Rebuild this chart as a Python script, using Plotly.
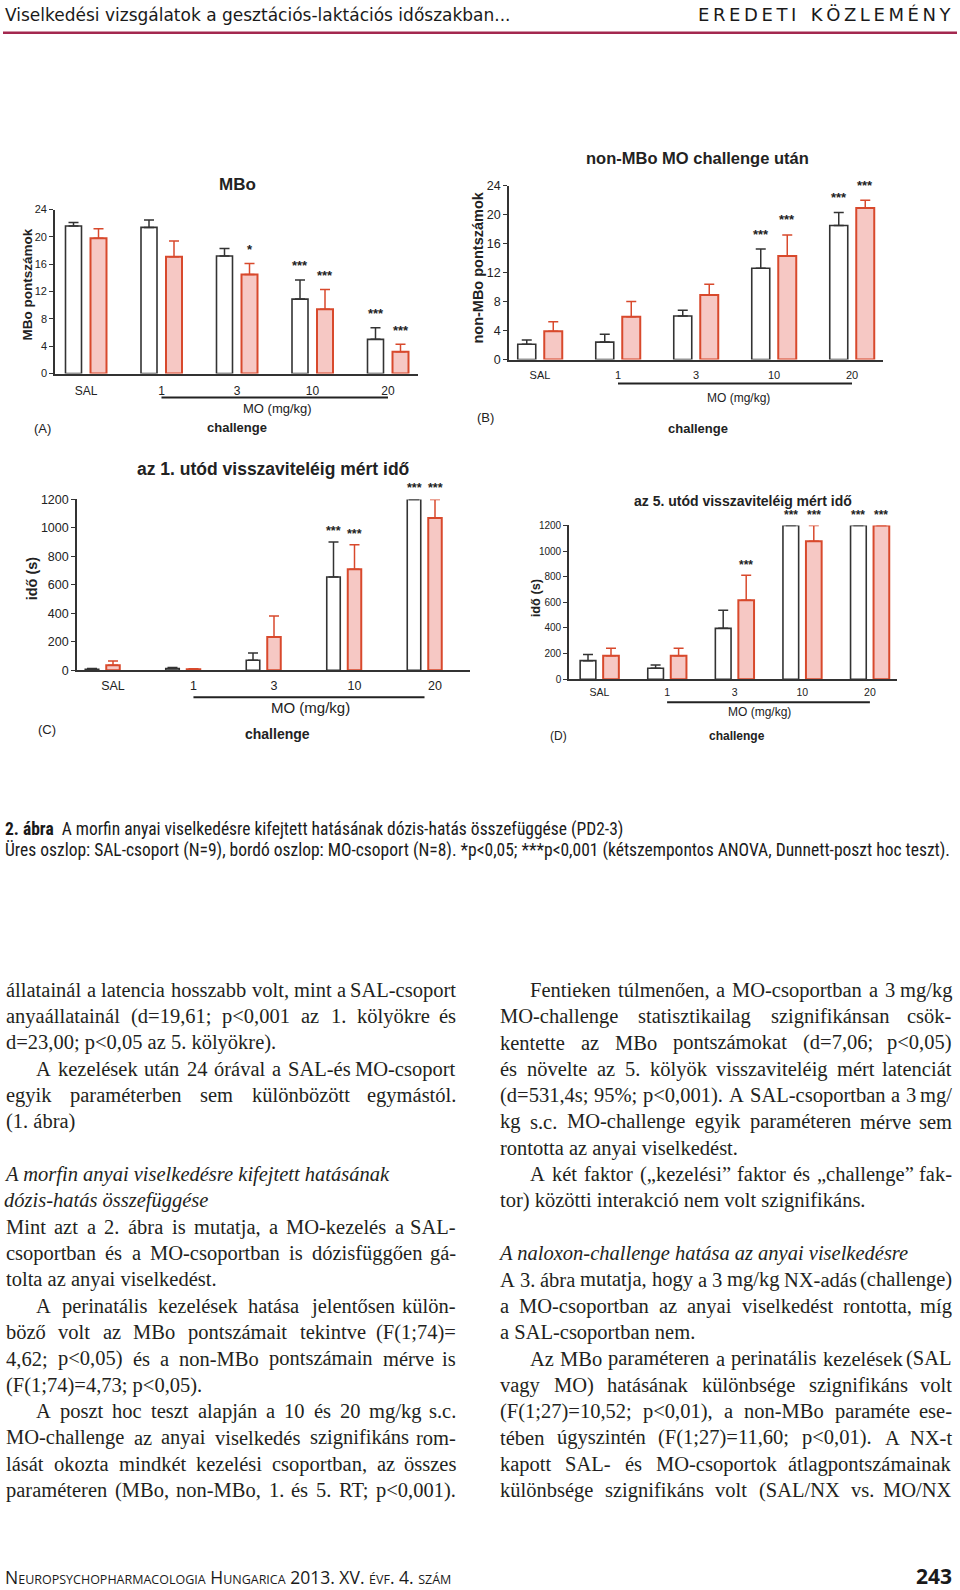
import unicodedata
import plotly.graph_objects as go

W, H = 960, 1590

# the photographed page shows the figure slightly offset/compressed vertically;
# positions below are target pixels in the photo, mapped back to figure pixels
Y_OFF, Y_SCALE = 6.2, 0.992


def px(x):
    return x / W


def py(y):
    return 1 - ((y - Y_OFF) / Y_SCALE) / H


# ---------------- DATA ----------------
groups = ["SAL", "1", "3", "10", "20"]

a_sal = [21.6, 21.4, 17.2, 10.9, 5.0]
a_sal_err = [0.5, 1.1, 1.1, 2.8, 1.7]
a_mo = [19.8, 17.1, 14.5, 9.4, 3.2]
a_mo_err = [1.4, 2.3, 1.6, 2.9, 1.1]
a_sal_sig = ["", "", "", "***", "***"]
a_mo_sig = ["", "", "*", "***", "***"]

b_sal = [2.1, 2.4, 6.0, 12.6, 18.5]
b_sal_err = [0.6, 1.1, 0.8, 2.65, 1.8]
b_mo = [3.9, 5.9, 8.9, 14.3, 20.9]
b_mo_err = [1.3, 2.1, 1.5, 2.9, 1.1]
b_sal_sig = ["", "", "", "***", "***"]
b_mo_sig = ["", "", "", "***", "***"]

c_sal = [7, 12, 70, 655, 1200]
c_sal_err = [5, 7, 52, 245, 0]
c_mo = [35, 7, 234, 709, 1069]
c_mo_err = [30, 3, 147, 173, 131]
c_sal_sig = ["", "", "", "***", "***"]
c_mo_sig = ["", "", "", "***", "***"]

d_sal = [145, 86, 397, 1200, 1200]
d_sal_err = [49, 25, 142, 0, 0]
d_mo = [184, 184, 617, 1076, 1200]
d_mo_err = [57, 57, 194, 124, 0]
d_sal_sig = ["", "", "", "***", "***"]
d_mo_sig = ["", "", "***", "***", "***"]

titles = ["MBo", "non-MBo MO challenge után",
          "az 1. utód visszaviteléig mért idő", "az 5. utód visszaviteléig mért idő"]
ytitles = ["MBo pontszámok", "non-MBo pontszámok", "idő (s)", "idő (s)"]
panel_labels = ["(A)", "(B)", "(C)", "(D)"]
dose_label = "MO (mg/kg)"
challenge_label = "challenge"

header_left = "Viselkedési vizsgálatok a gesztációs-laktációs időszakban..."
header_right = "EREDETI KÖZLEMÉNY"
caption1_bold = "2. ábra"
caption1 = "A morfin anyai viselkedésre kifejtett hatásának dózis-hatás összefüggése (PD2-3)"
caption2 = ("Üres oszlop: SAL-csoport (N=9), bordó oszlop: MO-csoport (N=8). *p<0,05; ***p<0,001 "
            "(kétszempontos ANOVA, Dunnett-poszt hoc teszt).")

# (text, style): j justified, ji indented+justified, n plain, t italic heading, '' blank
left_lines = [
    ("állatainál a latencia hosszabb volt, mint a SAL-csoport", "j"),
    ("anyaállatainál (d=19,61; p<0,001 az 1. kölyökre és", "j"),
    ("d=23,00; p<0,05 az 5. kölyökre).", "n"),
    ("A kezelések után 24 órával a SAL-és MO-csoport", "ji"),
    ("egyik paraméterben sem különbözött egymástól.", "j"),
    ("(1. ábra)", "n"),
    ("", ""),
    ("A morfin anyai viselkedésre kifejtett hatásának", "t"),
    ("dózis-hatás összefüggése", "t"),
    ("Mint azt a 2. ábra is mutatja, a MO-kezelés a SAL-", "j"),
    ("csoportban és a MO-csoportban is dózisfüggően gá-", "j"),
    ("tolta az anyai viselkedést.", "n"),
    ("A perinatális kezelések hatása jelentősen külön-", "ji"),
    ("böző volt az MBo pontszámait tekintve (F(1;74)=", "j"),
    ("4,62; p<0,05) és a non-MBo pontszámain mérve is", "j"),
    ("(F(1;74)=4,73; p<0,05).", "n"),
    ("A poszt hoc teszt alapján a 10 és 20 mg/kg s.c.", "ji"),
    ("MO-challenge az anyai viselkedés szignifikáns rom-", "j"),
    ("lását okozta mindkét kezelési csoportban, az összes", "j"),
    ("paraméteren (MBo, non-MBo, 1. és 5. RT; p<0,001).", "j"),
]
right_lines = [
    ("Fentieken túlmenően, a MO-csoportban a 3 mg/kg", "ji"),
    ("MO-challenge statisztikailag szignifikánsan csök-", "j"),
    ("kentette az MBo pontszámokat (d=7,06; p<0,05)", "j"),
    ("és növelte az 5. kölyök visszaviteléig mért latenciát", "j"),
    ("(d=531,4s; 95%; p<0,001). A SAL-csoportban a 3 mg/", "j"),
    ("kg s.c. MO-challenge egyik paraméteren mérve sem", "j"),
    ("rontotta az anyai viselkedést.", "n"),
    ("A két faktor („kezelési” faktor és „challenge” fak-", "ji"),
    ("tor) közötti interakció nem volt szignifikáns.", "n"),
    ("", ""),
    ("A naloxon-challenge hatása az anyai viselkedésre", "t"),
    ("A 3. ábra mutatja, hogy a 3 mg/kg NX-adás (challenge)", "j"),
    ("a MO-csoportban az anyai viselkedést rontotta, míg", "j"),
    ("a SAL-csoportban nem.", "n"),
    ("Az MBo paraméteren a perinatális kezelések (SAL", "ji"),
    ("vagy MO) hatásának különbsége szignifikáns volt", "j"),
    ("(F(1;27)=10,52; p<0,01), a non-MBo paraméte ese-", "j"),
    ("tében úgyszintén (F(1;27)=11,60; p<0,01). A NX-t", "j"),
    ("kapott SAL- és MO-csoportok átlagpontszámainak", "j"),
    ("különbsége szignifikáns volt (SAL/NX vs. MO/NX", "j"),
]

footer_page = "243"

# ---------------- STYLE / LAYOUT ----------------
RED = "#d8492c"
PINK = "#f6c8c4"
DARK = "#333333"
SANS = "Arial, Liberation Sans, sans-serif"
SERIF = "Liberation Serif, Times New Roman, serif"

panels = [
    dict(sal=a_sal, sal_e=a_sal_err, mo=a_mo, mo_e=a_mo_err, ss=a_sal_sig, ms=a_mo_sig,
         xl=55, xr=418, c0=86, sp=75.5, bw=16, pd=25, y0=373, yt=209, ymax=24, dt=4,
         tshift=0, tickf=11, xtickf=12, stand=5,
         title=(237, 184, 17), ytitle=(28, 284, 13.5), line_y=397, mo_lab=(277, 408, 13),
         ch=(237, 427, 13), pl=(42, 428, 13), star=14, starf=13),
    dict(sal=b_sal, sal_e=b_sal_err, mo=b_mo, mo_e=b_mo_err, ss=b_sal_sig, ms=b_mo_sig,
         xl=509, xr=883, c0=540, sp=78, bw=18, pd=26.5, y0=359, yt=185, ymax=24, dt=4,
         tshift=0, tickf=12.5, xtickf=11, stand=4,
         title=(697, 157, 16.5), ytitle=(478, 267, 14.5), line_y=383, mo_lab=(738, 398, 12),
         ch=(698, 428, 13), pl=(485, 417, 13), star=15, starf=13),
    dict(sal=c_sal, sal_e=c_sal_err, mo=c_mo, mo_e=c_mo_err, ss=c_sal_sig, ms=c_mo_sig,
         xl=77, xr=470, c0=102.5, sp=80.5, bw=13.5, pd=21, y0=670, yt=499, ymax=1200, dt=200,
         tshift=0.13, tickf=12.5, xtickf=12.5, stand=3,
         title=(273, 469, 17.5), ytitle=(32, 578, 14.5), line_y=697, mo_lab=(310, 707, 15),
         ch=(277, 734, 14), pl=(47, 729, 13), star=11, starf=12.5),
    dict(sal=d_sal, sal_e=d_sal_err, mo=d_mo, mo_e=d_mo_err, ss=d_sal_sig, ms=d_mo_sig,
         xl=569, xr=897, c0=599.5, sp=67.6, bw=15.7, pd=23, y0=679, yt=525, ymax=1200, dt=200,
         tshift=0, tickf=10, xtickf=10.5, stand=2,
         title=(743, 501, 14), ytitle=(535, 598, 12.8), line_y=702, mo_lab=(759, 712, 12),
         ch=(737, 736, 12), pl=(558, 736, 12), star=10, starf=12),
]

fig = go.Figure()
annotations = []
shapes = []
idx = list(range(len(groups)))


def nz(v):
    return [e if e else None for e in v]


for k, p in enumerate(panels):
    n = "" if k == 0 else str(k + 1)
    xa, ya = "x" + n, "y" + n
    w = p["bw"] / p["sp"]
    d = p["pd"] / 2 / p["sp"]
    fig.add_trace(go.Bar(
        x=idx, y=p["sal"], xaxis=xa, yaxis=ya, width=w, offset=-d - w / 2,
        marker=dict(color="white", line=dict(color=DARK, width=1.6)),
        error_y=dict(type="data", symmetric=False, array=nz(p["sal_e"]),
                     arrayminus=[0] * 5, color=DARK, thickness=1.5, width=5),
        cliponaxis=False, showlegend=False, name="SAL"))
    fig.add_trace(go.Bar(
        x=idx, y=p["mo"], xaxis=xa, yaxis=ya, width=w, offset=d - w / 2,
        marker=dict(color=PINK, line=dict(color=RED, width=2)),
        error_y=dict(type="data", symmetric=False, array=nz(p["mo_e"]),
                     arrayminus=[0] * 5, color=RED, thickness=1.5, width=5),
        cliponaxis=False, showlegend=False, name="MO"))

    r0 = (p["xl"] - p["c0"]) / p["sp"]
    r1 = (p["xr"] - p["c0"]) / p["sp"]
    fig.layout["xaxis" + n] = dict(
        domain=[px(p["xl"]), px(p["xr"])], range=[r0, r1], anchor=ya,
        tickvals=[i + p["tshift"] for i in idx], ticktext=groups,
        ticks="", showline=True, linecolor=DARK, linewidth=1.6,
        showgrid=False, zeroline=False, ticklabelstandoff=p["stand"],
        tickfont=dict(family=SANS, size=p["xtickf"], color="#222"))
    fig.layout["yaxis" + n] = dict(
        domain=[py(p["y0"]), py(p["yt"])], range=[0, p["ymax"]], anchor=xa,
        dtick=p["dt"], tick0=0, ticks="outside", ticklen=4, tickwidth=1.4, tickcolor=DARK,
        showline=True, linecolor=DARK, linewidth=1.6, showgrid=False, zeroline=False,
        tickfont=dict(family=SANS, size=p["tickf"], color="#222"))

    # stars
    for vals, errs, sig, off in ((p["sal"], p["sal_e"], p["ss"], -d), (p["mo"], p["mo_e"], p["ms"], d)):
        for i in idx:
            if sig[i]:
                annotations.append(dict(
                    x=i + off, y=vals[i] + errs[i], xref=xa, yref=ya, text=sig[i],
                    showarrow=False, yanchor="middle", yshift=p["star"],
                    font=dict(family=SANS, size=p["starf"], color="#222", weight="bold")))

    # MO dose line
    shapes.append(dict(type="line", xref=xa, yref="paper", x0=1 + p["tshift"], x1=4,
                       y0=py(p["line_y"]), y1=py(p["line_y"]),
                       line=dict(color="#222", width=2)))
    tx, ty, tf = p["title"]
    annotations.append(dict(x=px(tx), y=py(ty), xref="paper", yref="paper", text="<b>%s</b>" % titles[k],
                            showarrow=False, xanchor="center", yanchor="middle",
                            font=dict(family=SANS, size=tf, color="#222")))
    tx, ty, tf = p["ytitle"]
    annotations.append(dict(x=px(tx), y=py(ty), xref="paper", yref="paper", text="<b>%s</b>" % ytitles[k],
                            showarrow=False, xanchor="center", yanchor="middle", textangle=-90,
                            font=dict(family=SANS, size=tf, color="#222")))
    tx, ty, tf = p["mo_lab"]
    annotations.append(dict(x=px(tx), y=py(ty), xref="paper", yref="paper", text=dose_label,
                            showarrow=False, xanchor="center", yanchor="middle",
                            font=dict(family=SANS, size=tf, color="#222")))
    tx, ty, tf = p["ch"]
    annotations.append(dict(x=px(tx), y=py(ty), xref="paper", yref="paper", text="<b>%s</b>" % challenge_label,
                            showarrow=False, xanchor="center", yanchor="middle",
                            font=dict(family=SANS, size=tf, color="#222")))
    tx, ty, tf = p["pl"]
    annotations.append(dict(x=px(tx), y=py(ty), xref="paper", yref="paper", text=panel_labels[k],
                            showarrow=False, xanchor="center", yanchor="middle",
                            font=dict(family=SANS, size=tf, color="#222")))

# header
HEADF = "DejaVu Sans, Open Sans, sans-serif"
annotations.append(dict(x=px(3), y=py(14), xref="paper", yref="paper", text=header_left,
                        showarrow=False, xanchor="left", yanchor="middle",
                        font=dict(family=HEADF, size=17, color="#1a1a1a")))
annotations.append(dict(x=px(696), y=py(14), xref="paper", yref="paper",
                        text="\u2009".join(list(header_right)).replace("\u2009 \u2009", "\u2009\u2009\u2009\u2009"),
                        showarrow=False, xanchor="left", yanchor="middle",
                        font=dict(family=HEADF, size=18, color="#1a1a1a")))
shapes.append(dict(type="line", xref="paper", yref="paper", x0=px(3), x1=px(957), y0=py(32), y1=py(32),
                   line=dict(color="#a3284f", width=2.5)))

# caption
CAPF = "Liberation Sans Narrow, Roboto Condensed, Roboto, sans-serif"


def esc(s):
    return s.replace("<", "&lt;")


annotations.append(dict(x=px(3), y=py(829), xref="paper", yref="paper",
                        text="<b>%s</b>  %s" % (caption1_bold, esc(caption1)),
                        showarrow=False, xanchor="left", yanchor="middle",
                        font=dict(family=CAPF, size=17.5, color="#1a1a1a")))
annotations.append(dict(x=px(3), y=py(850), xref="paper", yref="paper", text=esc(caption2),
                        showarrow=False, xanchor="left", yanchor="middle",
                        font=dict(family=CAPF, size=17.5, color="#1a1a1a")))

# body text (Times-metric advance widths, used only to spread justified words)
_TW = {" ": 250, "!": 333, "%": 833, "(": 333, ")": 333, "*": 500, "+": 564, ",": 250, "-": 333,
       ".": 250, "/": 278, ":": 278, ";": 278, "<": 564, "=": 564, ">": 564, "?": 444,
       "„": 444, "”": 444, "“": 444}
_TW.update({c: 500 for c in "0123456789"})
_TW.update(dict(zip("ABCDEFGHIJKLMNOPQRSTUVWXYZ",
                    [722, 667, 667, 722, 611, 556, 722, 722, 333, 389, 722, 611, 889, 722, 722, 556,
                     722, 667, 556, 611, 722, 722, 944, 722, 722, 611])))
_TW.update(dict(zip("abcdefghijklmnopqrstuvwxyz",
                    [444, 500, 444, 500, 444, 333, 500, 500, 278, 278, 500, 278, 778, 500, 500, 500,
                     500, 333, 389, 278, 500, 500, 722, 500, 500, 444])))


def tw(s, size):
    tot = 0
    for ch in s:
        if ch not in _TW:
            ch = unicodedata.normalize("NFD", ch)[0]
        tot += _TW.get(ch, 500)
    return tot * size / 1000.0


BODY_SIZE = 20.5
BODY_FONT = dict(family=SERIF, size=BODY_SIZE, color="#231f20")
INDENT = 30
for lines, x0, x1 in ((left_lines, 4, 458), (right_lines, 498, 954)):
    for j, (txt, st) in enumerate(lines):
        if not txt:
            continue
        yy = py(990 + j * 26.36)
        start = x0 + (INDENT if st.endswith("i") else 0)
        if st.startswith("j"):
            words = txt.split(" ")
            wl = [tw(wd, BODY_SIZE) for wd in words]
            gap = (x1 - 2 - start - sum(wl)) / (len(words) - 1)
            xpos = start
            for m, wd in enumerate(words):
                if m == len(words) - 1:
                    annotations.append(dict(x=px(x1), y=yy, xref="paper", yref="paper", text=esc(wd),
                                            showarrow=False, xanchor="right", yanchor="middle",
                                            font=BODY_FONT))
                else:
                    annotations.append(dict(x=px(xpos), y=yy, xref="paper", yref="paper", text=esc(wd),
                                            showarrow=False, xanchor="left", yanchor="middle",
                                            font=BODY_FONT))
                xpos += wl[m] + gap
        else:
            t = esc(txt)
            if st == "t":
                t = "<i>%s</i>" % t
                start -= 2
            annotations.append(dict(x=px(start), y=yy, xref="paper", yref="paper", text=t,
                                    showarrow=False, xanchor="left", yanchor="middle", font=BODY_FONT))

# footer
def small(s):
    return "<span style='font-size:12.5px'>%s</span>" % s


footer = ("N" + small("EUROPSYCHOPHARMACOLOGIA") + " H" + small("UNGARICA") + " 2013. XV. "
          + small("ÉVF") + ". 4. " + small("SZÁM"))
annotations.append(dict(x=px(3), y=py(1577), xref="paper", yref="paper", text=footer,
                        showarrow=False, xanchor="left", yanchor="middle",
                        font=dict(family="Open Sans, sans-serif", size=17.5, color="#1a1a1a")))
annotations.append(dict(x=px(914), y=py(1576), xref="paper", yref="paper", text=footer_page,
                        showarrow=False, xanchor="left", yanchor="middle",
                        font=dict(family="Open Sans, sans-serif", size=21, color="#1a1a1a", weight="bold")))

fig.update_layout(
    width=W, height=H, margin=dict(l=0, r=0, t=0, b=0),
    paper_bgcolor="white", plot_bgcolor="white",
    barmode="overlay", annotations=annotations, shapes=shapes, showlegend=False,
)

fig.write_html("out.html", config={"displayModeBar": False},
               post_script="document.body.style.margin='0';")
